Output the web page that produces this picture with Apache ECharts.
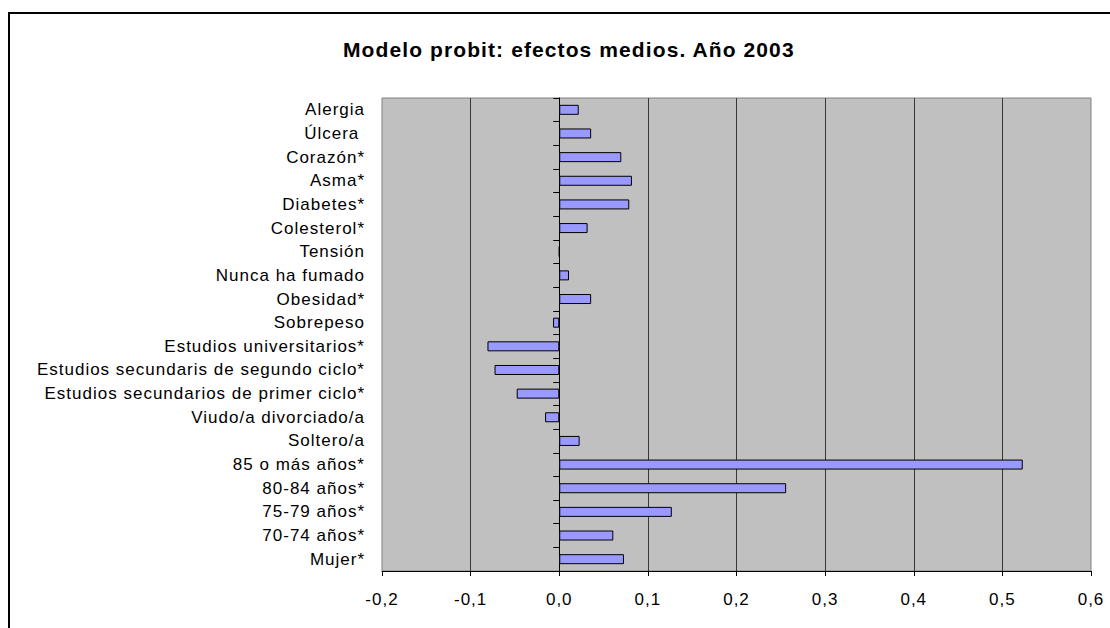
<!DOCTYPE html>
<html>
<head>
<meta charset="utf-8">
<script src="https://cdn.jsdelivr.net/npm/echarts@6/dist/echarts.min.js"></script>
<style>
html,body{margin:0;padding:0;background:#fff;}
#chart{width:1110px;height:628px;}
#chart text{letter-spacing:1px;}
#chart text[style*="bold"]{letter-spacing:1.1px;}
</style>
</head>
<body>
<div id="chart"></div>
<script>
var categories = ["Alergia","Úlcera ","Corazón*","Asma*","Diabetes*","Colesterol*","Tensión","Nunca ha fumado","Obesidad*","Sobrepeso","Estudios universitarios*","Estudios secundaris de segundo ciclo*","Estudios secundarios de primer ciclo*","Viudo/a divorciado/a","Soltero/a","85 o más años*","80-84 años*","75-79 años*","70-74 años*","Mujer*"];
var effects = [0.022,0.036,0.070,0.082,0.079,0.032,0,0.011,0.036,-0.007,-0.081,-0.073,-0.048,-0.016,0.023,0.523,0.256,0.127,0.061,0.073];
var xMin = -0.2, xMax = 0.6, xStep = 0.1;
var titleText = "Modelo probit: efectos medios. Año 2003";

var chart = echarts.init(document.getElementById('chart'), null, {renderer:'svg'});
var font = "'Liberation Sans', Arial, sans-serif";
chart.setOption({
  animation:false,
  backgroundColor:'#ffffff',
  title:{text:titleText, left:338, top:34, textStyle:{fontFamily:font, fontSize:21, fontWeight:'bold', color:'#000'}},
  grid:{left:382, top:98, width:709, height:473, show:true, backgroundColor:'#C0C0C0', borderColor:'#808080', borderWidth:1},
  xAxis:{type:'value', min:xMin, max:xMax, interval:xStep,
    axisLine:{show:true, onZero:false, lineStyle:{color:'#000', width:1}},
    axisTick:{show:true, length:5, lineStyle:{color:'#000'}},
    axisLabel:{margin:20, fontFamily:font, fontSize:17, color:'#000', formatter:function(v){return v.toFixed(1).replace('.',',');}},
    splitLine:{show:true, showMinLine:false, showMaxLine:false, lineStyle:{color:'#383838', width:1}}
  },
  yAxis:[
    {type:'category', data:categories, inverse:true, position:'left',
      axisLine:{show:false, onZero:false}, axisTick:{show:false},
      axisLabel:{margin:17, fontFamily:font, fontSize:17, color:'#000'}, splitLine:{show:false}},
    {type:'category', data:categories, inverse:true, position:'left',
      axisLine:{show:true, onZero:true, lineStyle:{color:'#000', width:1}},
      axisTick:{show:true, length:6, lineStyle:{color:'#000'}},
      axisLabel:{show:false}, splitLine:{show:false}}
  ],
  graphic:[{type:'polyline', shape:{points:[[9,628],[9,13],[1110,13]]}, style:{stroke:'#000', lineWidth:2, fill:null}, z:100}],
  series:[{type:'bar', yAxisIndex:0, data:effects, barWidth:10,
    itemStyle:{color:'#9999FF', borderColor:'#000', borderWidth:1}}]
});
</script>
</body>
</html>
